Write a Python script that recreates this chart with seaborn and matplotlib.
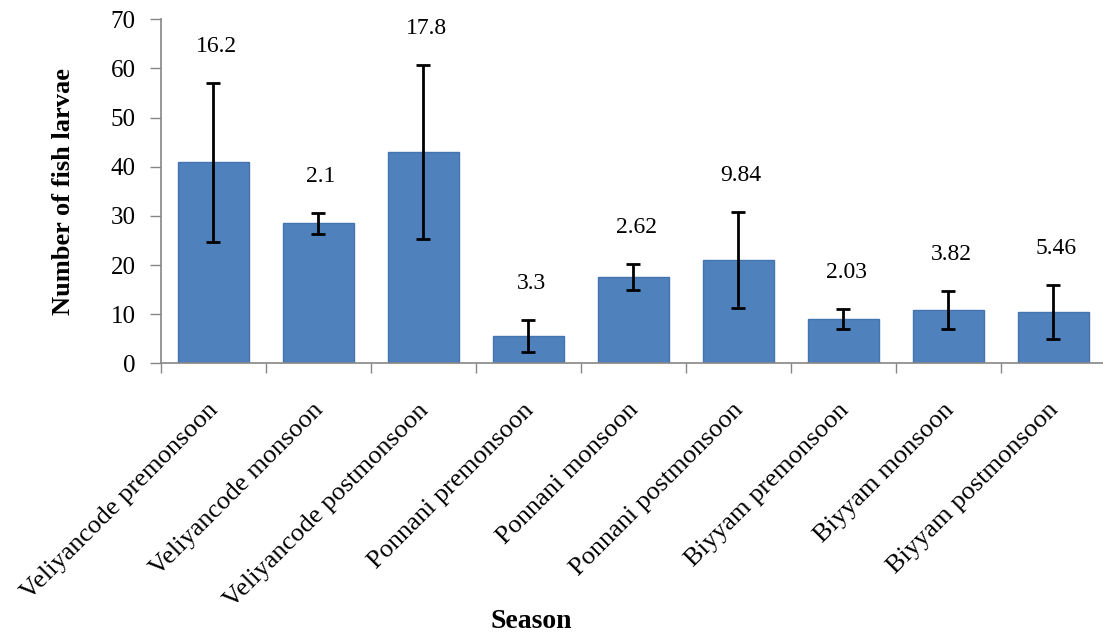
import matplotlib
matplotlib.use("Agg")
import matplotlib.pyplot as plt
import matplotlib.transforms as mtransforms
import seaborn as sns
import pandas as pd
import numpy as np
from matplotlib.ticker import MultipleLocator, FixedLocator

categories = ["Veliyancode premonsoon", "Veliyancode monsoon", "Veliyancode postmonsoon",
              "Ponnani premonsoon", "Ponnani monsoon", "Ponnani postmonsoon",
              "Biyyam premonsoon", "Biyyam monsoon", "Biyyam postmonsoon"]
means = [40.9, 28.5, 43.0, 5.6, 17.6, 21.0, 9.0, 10.9, 10.5]
errors = [16.2, 2.1, 17.8, 3.3, 2.62, 9.84, 2.03, 3.82, 5.46]
error_labels = ["16.2", "2.1", "17.8", "3.3", "2.62", "9.84", "2.03", "3.82", "5.46"]

sns.set_style("white")
plt.rcParams["font.family"] = ["Liberation Serif", "DejaVu Serif"]
plt.rcParams["text.color"] = "black"
plt.rcParams["axes.labelcolor"] = "black"
plt.rcParams["xtick.labelcolor"] = "black"
plt.rcParams["ytick.labelcolor"] = "black"

df = pd.DataFrame({"Season": categories, "Larvae": means})

fig = plt.figure(figsize=(11.03, 6.34), dpi=100)
ax = fig.add_axes([160.7 / 1103, 1 - 363.3 / 634, (1106 - 160.7) / 1103, 344 / 634])

sns.barplot(data=df, x="Season", y="Larvae", color="#4F81BD", saturation=1,
            width=0.68, edgecolor="#4474AE", linewidth=1.0, ax=ax, errorbar=None)

xs = np.arange(len(categories))
ax.errorbar(xs, means, yerr=errors, fmt="none", ecolor="black", elinewidth=2,
            capsize=5, capthick=2)

for x, m, e, lab in zip(xs, means, errors, error_labels):
    ax.annotate(lab, (x, m + e), xytext=(2, 26), textcoords="offset points",
                ha="center", va="center", fontsize=17, color="black")

ax.set_ylim(0, 70)
ax.set_xlim(-0.5, len(categories) - 0.5)
ax.yaxis.set_major_locator(MultipleLocator(10))

ax.xaxis.set_minor_locator(FixedLocator(np.arange(-0.5, len(categories), 1.0)))
ax.tick_params(axis="x", which="major", length=0, pad=10)
ax.tick_params(axis="x", which="minor", length=7, width=1, color="#868686", direction="out", bottom=True)
ax.tick_params(axis="y", which="major", length=8, width=1, color="#868686", direction="out",
               left=True, labelsize=18, pad=10)

ax.set_xticks(xs)
ax.set_xticklabels(categories, rotation=45, ha="right", rotation_mode="anchor", fontsize=19)
offset = mtransforms.ScaledTranslation(-0.06, -0.22, fig.dpi_scale_trans)
for lbl in ax.get_xticklabels():
    lbl.set_transform(lbl.get_transform() + offset)

for sp in ["top", "right"]:
    ax.spines[sp].set_visible(False)
for sp in ["left", "bottom"]:
    ax.spines[sp].set_color("#868686")
    ax.spines[sp].set_linewidth(1.2)

ax.set_ylabel("Number of fish larvae", fontsize=19, fontweight="bold")
ax.yaxis.set_label_coords((75 - 160.7) / 945.3, 0.5)
ax.set_xlabel("Season", fontsize=20, fontweight="bold")
ax.xaxis.set_label_coords((531 - 160.7) / 945.3, (363.3 - 609) / 344)

fig.savefig("out.png", dpi=100)
